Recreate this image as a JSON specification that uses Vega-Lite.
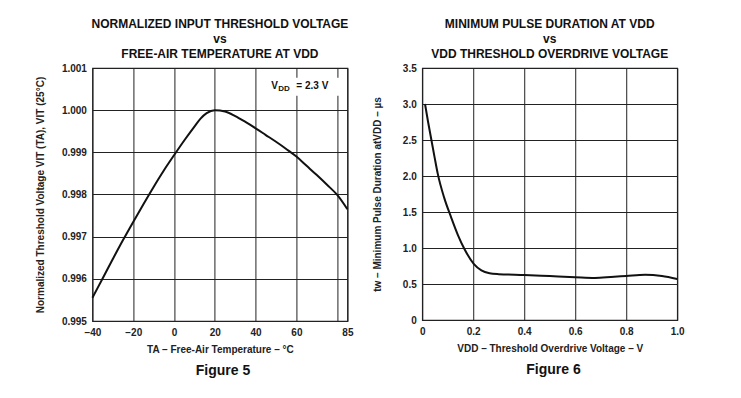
{
  "$schema": "https://vega.github.io/schema/vega-lite/v6.json",
  "padding": {"left": 34, "top": 17, "right": 5, "bottom": 5},
  "background": "white",
  "config": {
    "font": "Liberation Sans",
    "view": {"stroke": "#222", "strokeWidth": 1.2},
    "axis": {
      "domain": false,
      "ticks": false,
      "grid": true,
      "gridColor": "#222",
      "gridOpacity": 1,
      "gridWidth": 1,
      "labelOverlap": false,
      "labelFlush": false,
      "labelFont": "Liberation Sans",
      "labelFontSize": 10,
      "labelFontWeight": "bold",
      "labelColor": "#222",
      "labelPadding": 6,
      "titleFont": "Liberation Sans",
      "titleFontSize": 10,
      "titleFontWeight": "bold",
      "titleColor": "#222"
    },
    "axisY": {"titlePadding": 16},
    "axisX": {"titlePadding": 7},
    "title": {
      "font": "Liberation Sans",
      "fontSize": 12,
      "fontWeight": "bold",
      "color": "#111",
      "lineHeight": 15,
      "offset": 2
    }
  },
  "spacing": 17,
  "hconcat": [
    {
      "center": true,
      "spacing": 6,
      "vconcat": [
        {
          "width": 255,
          "height": 253,
          "title": {"text": ["NORMALIZED INPUT THRESHOLD VOLTAGE", "vs", "FREE-AIR TEMPERATURE AT VDD"]},
          "data": {"values": [
            {"T": -40, "V": 0.99555},
            {"T": -35, "V": 0.99601},
            {"T": -30, "V": 0.99647},
            {"T": -25, "V": 0.99692},
            {"T": -20, "V": 0.99735},
            {"T": -15, "V": 0.99777},
            {"T": -10, "V": 0.99818},
            {"T": -5, "V": 0.99857},
            {"T": 0, "V": 0.99893},
            {"T": 5, "V": 0.99928},
            {"T": 10, "V": 0.99961},
            {"T": 13, "V": 0.99980},
            {"T": 16, "V": 0.99993},
            {"T": 20, "V": 1.00000},
            {"T": 25, "V": 0.99997},
            {"T": 30, "V": 0.99986},
            {"T": 35, "V": 0.99972},
            {"T": 40, "V": 0.99957},
            {"T": 45, "V": 0.99941},
            {"T": 50, "V": 0.99925},
            {"T": 55, "V": 0.99908},
            {"T": 60, "V": 0.99890},
            {"T": 65, "V": 0.99868},
            {"T": 70, "V": 0.99846},
            {"T": 75, "V": 0.99823},
            {"T": 80, "V": 0.99799},
            {"T": 85, "V": 0.99765}
          ]},
          "layer": [
            {
              "mark": {"type": "line", "interpolate": "monotone", "color": "#111", "strokeWidth": 2},
              "encoding": {
                "x": {
                  "field": "T", "type": "quantitative",
                  "scale": {"domain": [-40, 85], "nice": false, "zero": false},
                  "axis": {
                    "values": [-40, -20, 0, 20, 40, 60, 80, 85],
                    "tickCount": 20,
                    "labelExpr": "datum.value == 80 ? '' : datum.label",
                    "title": "TA – Free-Air Temperature – °C"
                  }
                },
                "y": {
                  "field": "V", "type": "quantitative",
                  "scale": {"domain": [0.995, 1.001], "nice": false, "zero": false},
                  "axis": {
                    "values": [0.995, 0.996, 0.997, 0.998, 0.999, 1.0, 1.001],
                    "tickCount": 20,
                    "format": ".3f",
                    "title": "Normalized Threshold Voltage VIT (TA), VIT (25°C)"
                  }
                }
              }
            },
            {
              "data": {"values": [{"a": 44.5, "b": 82, "lo": 1.00034, "hi": 1.00077}]},
              "mark": {"type": "rect", "fill": "white"},
              "encoding": {
                "x": {"field": "a", "type": "quantitative"},
                "x2": {"field": "b"},
                "y": {"field": "hi", "type": "quantitative"},
                "y2": {"field": "lo"}
              }
            },
            {
              "data": {"values": [{"label": "V", "tx": 47.7, "ty": 1.00057}]},
              "mark": {"type": "text", "align": "left", "baseline": "middle", "fontSize": 10, "fontWeight": "bold", "color": "#111"},
              "encoding": {
                "x": {"field": "tx", "type": "quantitative"},
                "y": {"field": "ty", "type": "quantitative"},
                "text": {"field": "label"}
              }
            },
            {
              "data": {"values": [{"label": "DD", "tx": 47.7, "ty": 1.00057}]},
              "mark": {"type": "text", "align": "left", "baseline": "middle", "fontSize": 8, "fontWeight": "bold", "color": "#111", "dx": 7, "dy": 3},
              "encoding": {
                "x": {"field": "tx", "type": "quantitative"},
                "y": {"field": "ty", "type": "quantitative"},
                "text": {"field": "label"}
              }
            },
            {
              "data": {"values": [{"label": "= 2.3 V", "tx": 47.7, "ty": 1.00057}]},
              "mark": {"type": "text", "align": "left", "baseline": "middle", "fontSize": 10, "fontWeight": "bold", "color": "#111", "dx": 25},
              "encoding": {
                "x": {"field": "tx", "type": "quantitative"},
                "y": {"field": "ty", "type": "quantitative"},
                "text": {"field": "label"}
              }
            }
          ]
        },
        {
          "width": 80,
          "height": 20,
          "view": {"stroke": null},
          "data": {"values": [{"label": "Figure 5"}]},
          "mark": {"type": "text", "fontSize": 14, "fontWeight": "bold", "color": "#111"},
          "encoding": {"text": {"field": "label"}}
        }
      ]
    },
    {
      "center": true,
      "spacing": 6,
      "vconcat": [
        {
          "width": 255,
          "height": 252,
          "title": {"text": ["MINIMUM PULSE DURATION AT VDD", "vs", "VDD THRESHOLD OVERDRIVE VOLTAGE"]},
          "data": {"values": [
            {"Vod": 0.011, "tw": 3.00},
            {"Vod": 0.023, "tw": 2.75},
            {"Vod": 0.036, "tw": 2.50},
            {"Vod": 0.048, "tw": 2.27},
            {"Vod": 0.061, "tw": 2.03},
            {"Vod": 0.086, "tw": 1.70},
            {"Vod": 0.113, "tw": 1.43},
            {"Vod": 0.140, "tw": 1.18},
            {"Vod": 0.165, "tw": 0.99},
            {"Vod": 0.202, "tw": 0.78},
            {"Vod": 0.232, "tw": 0.69},
            {"Vod": 0.264, "tw": 0.65},
            {"Vod": 0.300, "tw": 0.637},
            {"Vod": 0.400, "tw": 0.625},
            {"Vod": 0.500, "tw": 0.61},
            {"Vod": 0.600, "tw": 0.595},
            {"Vod": 0.677, "tw": 0.585},
            {"Vod": 0.740, "tw": 0.597},
            {"Vod": 0.800, "tw": 0.612},
            {"Vod": 0.874, "tw": 0.63},
            {"Vod": 0.940, "tw": 0.612},
            {"Vod": 1.000, "tw": 0.57}
          ]},
          "mark": {"type": "line", "interpolate": "monotone", "color": "#111", "strokeWidth": 2},
          "encoding": {
            "x": {
              "field": "Vod", "type": "quantitative",
              "scale": {"domain": [0, 1], "nice": false},
              "axis": {
                "values": [0, 0.2, 0.4, 0.6, 0.8, 1.0],
                "tickCount": 20,
                "labelExpr": "datum.value == 0 ? '0' : format(datum.value, '.1f')",
                "title": "VDD – Threshold Overdrive Voltage – V"
              }
            },
            "y": {
              "field": "tw", "type": "quantitative",
              "scale": {"domain": [0, 3.5], "nice": false},
              "axis": {
                "values": [0, 0.5, 1.0, 1.5, 2.0, 2.5, 3.0, 3.5],
                "tickCount": 20,
                "labelExpr": "datum.value == 0 ? '0' : format(datum.value, '.1f')",
                "title": "tw – Minimum Pulse Duration atVDD – µs",
                "titlePadding": 20
              }
            }
          }
        },
        {
          "width": 80,
          "height": 20,
          "view": {"stroke": null},
          "data": {"values": [{"label": "Figure 6"}]},
          "mark": {"type": "text", "fontSize": 14, "fontWeight": "bold", "color": "#111"},
          "encoding": {"text": {"field": "label"}}
        }
      ]
    }
  ]
}
